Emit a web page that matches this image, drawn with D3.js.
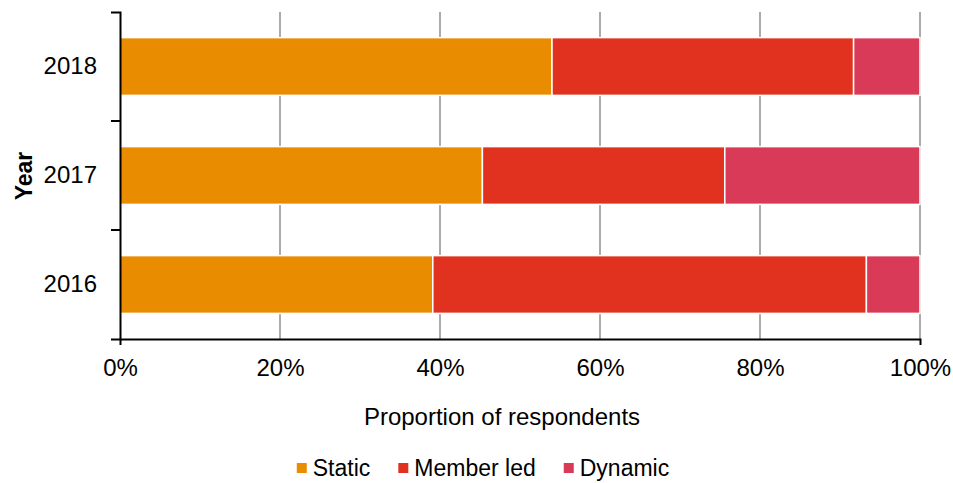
<!DOCTYPE html>
<html>
<head>
<meta charset="utf-8">
<script src="https://cdn.jsdelivr.net/npm/d3@7"></script>
<style>
  html, body { margin: 0; padding: 0; background: #fff; }
  svg { display: block; }
  text { font-family: "Liberation Sans", Arial, sans-serif; fill: #000; }
</style>
</head>
<body>
<svg id="chart" width="953" height="483"></svg>
<script>
// Survey years, top to bottom
const years = ["2018", "2017", "2016"];
const seriesNames = ["Static", "Member led", "Dynamic"];
const seriesColors = ["#EA8C00", "#E0321E", "#D93A57"];
// Share of respondents (%) per year, in the order of `years`
const staticShare = [54.0, 45.3, 39.1];
const memberLedShare = [37.7, 30.3, 54.2];
const dynamicShare = [8.3, 24.4, 6.7];
const xTicks = [0, 20, 40, 60, 80, 100];

const rows = years.map((y, i) => ({
  year: y,
  "Static": staticShare[i],
  "Member led": memberLedShare[i],
  "Dynamic": dynamicShare[i]
}));

const svg = d3.select("#chart");
const margin = { left: 120, right: 33, top: 12, bottom: 144 };
const W = 953, H = 483;
const FS = 24;
const x = d3.scaleLinear().domain([0, 100]).range([margin.left, W - margin.right]);
const y = d3.scaleBand().domain(years).range([margin.top, H - margin.bottom])
  .paddingInner(0.47).paddingOuter(0.235);

// vertical gridlines
svg.append("g").selectAll("line").data(xTicks.slice(1)).join("line")
  .attr("x1", d => x(d)).attr("x2", d => x(d))
  .attr("y1", margin.top).attr("y2", H - margin.bottom)
  .attr("stroke", "#ababab").attr("stroke-width", 2);

// stacked bars
const stack = d3.stack().keys(seriesNames)(rows);
const color = d3.scaleOrdinal().domain(seriesNames).range(seriesColors);
svg.append("g").selectAll("g").data(stack).join("g")
  .attr("fill", d => color(d.key))
  .selectAll("rect").data(d => d).join("rect")
  .attr("x", d => x(d[0]))
  .attr("width", d => x(d[1]) - x(d[0]))
  .attr("y", d => y(d.data.year))
  .attr("height", y.bandwidth())
  .attr("stroke", "#fff").attr("stroke-width", 1.5);

// x axis
const xAxis = svg.append("g")
  .attr("transform", `translate(0,${H - margin.bottom})`)
  .call(d3.axisBottom(x).tickValues(xTicks).tickFormat(d => d + "%")
    .tickSizeInner(0).tickSizeOuter(6).tickPadding(20));
xAxis.select(".domain").attr("stroke", "#000").attr("stroke-width", 2);
xAxis.selectAll("text").attr("font-size", FS).attr("font-family", null);

// y axis
const yAxis = svg.append("g")
  .attr("transform", `translate(${margin.left},0)`)
  .call(d3.axisLeft(y).tickSizeInner(0).tickSizeOuter(9).tickPadding(23));
yAxis.select(".domain").attr("stroke", "#000").attr("stroke-width", 2);
yAxis.selectAll("text").attr("font-size", FS).attr("font-family", null);

// category boundary ticks
const step = y.step();
const bounds = years.slice(0, -1).map(d => y(d) + y.bandwidth() + (step - y.bandwidth()) / 2);
yAxis.selectAll(".bound").data(bounds).join("line").attr("class", "bound")
  .attr("x1", -9).attr("x2", 0).attr("y1", d => d).attr("y2", d => d)
  .attr("stroke", "#000").attr("stroke-width", 2);

// axis titles
svg.append("text")
  .attr("x", 502).attr("y", 425)
  .attr("text-anchor", "middle")
  .attr("font-size", FS)
  .text("Proportion of respondents");

svg.append("text")
  .attr("transform", "translate(24,176) rotate(-90)")
  .attr("text-anchor", "middle").attr("dominant-baseline", "central")
  .attr("font-size", 23).attr("font-weight", "bold")
  .text("Year");

// legend
const legend = svg.append("g");
const items = legend.selectAll("g").data(seriesNames).join("g");
items.append("rect").attr("width", 10).attr("height", 10).attr("y", -5)
  .attr("fill", d => color(d));
items.append("text").attr("x", 16).attr("y", 8)
  .attr("font-size", 23)
  .text(d => d);
let offs = 0;
const offsets = [];
const GAP = 28;
items.each(function() {
  offsets.push(offs);
  const wText = d3.select(this).select("text").node().getComputedTextLength();
  offs += 16 + wText + GAP;
});
const totalW = offs - GAP;
const startX = 483 - totalW / 2;
items.attr("transform", (d, i) => `translate(${startX + offsets[i]},468)`);
</script>
</body>
</html>
